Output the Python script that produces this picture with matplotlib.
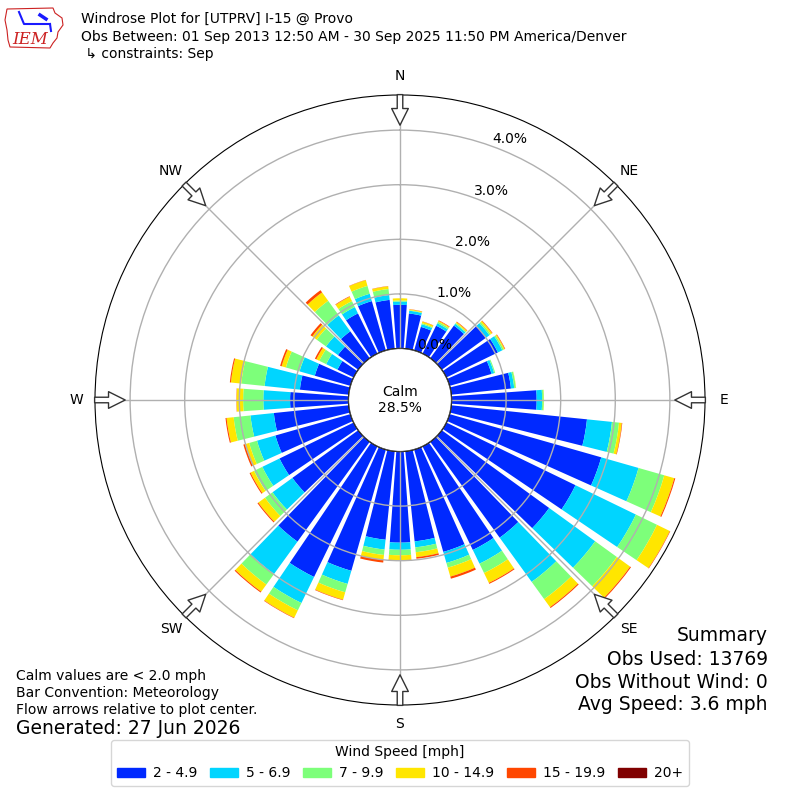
import numpy as np
import matplotlib
matplotlib.use("Agg")
import matplotlib.pyplot as plt
from matplotlib.patches import Circle, Patch, Polygon

# wind direction bins (deg, direction wind blows from)
directions = np.arange(0, 360, 10)

# percent of observations per direction and speed bin
spd_2_5 = [0.80, 0.65, 0.45, 0.57, 0.74, 1.00, 1.05, 0.80, 1.10, 1.56,
           2.50, 2.89, 2.63, 2.43, 2.17, 2.11, 1.95, 1.66, 1.67, 1.63,
           2.31, 2.66, 2.26, 1.49, 1.51, 1.43, 1.38, 1.07, 0.90, 0.68,
           0.33, 0.46, 0.61, 0.82, 0.94, 0.90]
spd_5_7 = [0.06, 0.05, 0.05, 0.05, 0.04, 0.08, 0.09, 0.05, 0.06, 0.10,
           0.46, 0.71, 1.23, 1.04, 1.00, 0.28, 0.21, 0.11, 0.13, 0.18,
           0.25, 0.53, 0.73, 0.45, 0.35, 0.35, 0.43, 0.49, 0.65, 0.29,
           0.23, 0.27, 0.36, 0.13, 0.14, 0.09]
spd_7_10 = [0.02, 0.01, 0.02, 0.03, 0.02, 0.03, 0.03, 0.02, 0.03, 0.03,
            0.13, 0.49, 0.43, 0.49, 0.39, 0.19, 0.09, 0.09, 0.10, 0.10,
            0.16, 0.15, 0.24, 0.17, 0.17, 0.15, 0.31, 0.37, 0.43, 0.26,
            0.14, 0.21, 0.33, 0.12, 0.15, 0.11]
spd_10_15 = [0.04, 0.015, 0.03, 0.02, 0.02, 0.03, 0.02, 0.0, 0.005, 0.005,
             0.05, 0.19, 0.26, 0.30, 0.18, 0.20, 0.17, 0.09, 0.09, 0.09,
             0.14, 0.15, 0.16, 0.15, 0.07, 0.08, 0.13, 0.12, 0.19, 0.08,
             0.06, 0.10, 0.19, 0.09, 0.11, 0.05]
spd_15_20 = [0.0, 0.005, 0.005, 0.01, 0.01, 0.01, 0.01, 0.0, 0.0, 0.0,
             0.01, 0.02, 0.01, 0.02, 0.02, 0.02, 0.04, 0.03, 0.01, 0.05,
             0.01, 0.01, 0.02, 0.02, 0.02, 0.03, 0.02, 0.005, 0.02, 0.03,
             0.03, 0.04, 0.05, 0.01, 0.005, 0.005]
spd_20 = [0.0] * 36

speed_labels = ["2 - 4.9", "5 - 6.9", "7 - 9.9", "10 - 14.9", "15 - 19.9", "20+"]
compass = ["N", "NE", "E", "SE", "S", "SW", "W", "NW"]
rticks = [0, 1, 2, 3, 4]
calm_pct = 28.5

colors = plt.cm.jet(np.linspace(0, 1, 7)[1:])

fig = plt.figure(figsize=(8, 8), dpi=100)
ax = fig.add_axes([0.11875, 0.11875, 0.7625, 0.7625], polar=True)
ax.set_theta_zero_location("N")
ax.set_theta_direction(-1)

theta = np.deg2rad(directions)
base = np.zeros(len(directions))
for vals, c in zip([spd_2_5, spd_5_7, spd_7_10, spd_10_15, spd_15_20, spd_20], colors):
    vals = np.array(vals)
    ax.bar(theta, vals, width=np.deg2rad(8.2), bottom=base, color=c,
           edgecolor="none", zorder=1)
    base = base + vals

ax.set_ylim(0, 4.643)
ax.set_rorigin(-0.943)
ax.set_axisbelow(False)
ax.grid(True, color="#b0b0b0", lw=1)
ax.set_xticks(np.deg2rad(np.arange(0, 360, 45)))
ax.set_xticklabels(compass, fontsize=10)
ax.tick_params(axis="x", pad=3)
ax.set_yticks(rticks)
ax.set_yticklabels(["%.1f%%" % v for v in rticks], fontsize=10)
ax.set_rlabel_position(20)

# flow arrows pointing to the center
for d in range(0, 360, 45):
    ax.annotate("", xy=(np.deg2rad(d), 4.09), xytext=(np.deg2rad(d), 4.65),
                arrowprops=dict(arrowstyle="simple,head_length=0.6,head_width=0.6,tail_width=0.2",
                                fc="white", ec="#333333", lw=1, shrinkA=0, shrinkB=0,
                                mutation_scale=20),
                annotation_clip=False, zorder=4)

calm = Circle((0.5, 0.5), 51.5 / 610, transform=ax.transAxes, fc="white",
              ec="black", lw=1, zorder=5)
ax.add_artist(calm)
ax.text(0.5, 0.5, "Calm\n%.1f%%" % calm_pct, transform=ax.transAxes,
        ha="center", va="center", fontsize=10, zorder=6)

# header
fig.text(0.101, 0.976, "Windrose Plot for [UTPRV] I-15 @ Provo", fontsize=10, va="center")
fig.text(0.101, 0.954, "Obs Between: 01 Sep 2013 12:50 AM - 30 Sep 2025 11:50 PM America/Denver",
         fontsize=10, va="center")
fig.text(0.101, 0.9325, " \u21b3 constraints: Sep", fontsize=10, va="center")

# logo
lax = fig.add_axes([0, 0.93, 0.085, 0.07])
lax.set_xlim(0, 68)
lax.set_ylim(56, 0)
lax.axis("off")
iowa = [(7, 9), (53, 8), (55, 13), (62, 18), (63, 25), (58, 32), (57, 38),
        (53, 43), (50, 48), (10, 47), (8, 40), (7, 30), (5, 20)]
lax.add_patch(Polygon(iowa, closed=True, fc="none", ec="#cc2222", lw=0.8))
lax.plot([19, 24, 50], [12, 24, 24], color="#1a1aff", lw=1.5)
lax.plot([40, 46], [15, 19], color="#1a1aff", lw=2.5)
lax.plot([50, 51], [24, 31], color="#1a1aff", lw=1.5)
lax.text(30, 39, "IEM", color="#cc2222", fontsize=12, style="italic",
         family="DejaVu Serif", ha="center", va="center")

# notes
fig.text(0.02, 0.155, "Calm values are < 2.0 mph", fontsize=10, va="center")
fig.text(0.02, 0.134, "Bar Convention: Meteorology", fontsize=10, va="center")
fig.text(0.02, 0.1125, "Flow arrows relative to plot center.", fontsize=10, va="center")
fig.text(0.02, 0.089, "Generated: 27 Jun 2026", fontsize=13.5, va="center")

fig.text(0.96, 0.206, "Summary", fontsize=13.5, ha="right", va="center")
fig.text(0.96, 0.176, "Obs Used: 13769", fontsize=13.5, ha="right", va="center")
fig.text(0.96, 0.1475, "Obs Without Wind: 0", fontsize=13.5, ha="right", va="center")
fig.text(0.96, 0.119, "Avg Speed: 3.6 mph", fontsize=13.5, ha="right", va="center")

handles = [Patch(color=c) for c in colors]
fig.legend(handles, speed_labels, loc="lower center", bbox_to_anchor=(0.5, 0.009),
           ncol=6, title="Wind Speed [mph]", fontsize=10, title_fontsize=10,
           handletextpad=0.6, columnspacing=0.9)

fig.savefig("out.png", dpi=100)
